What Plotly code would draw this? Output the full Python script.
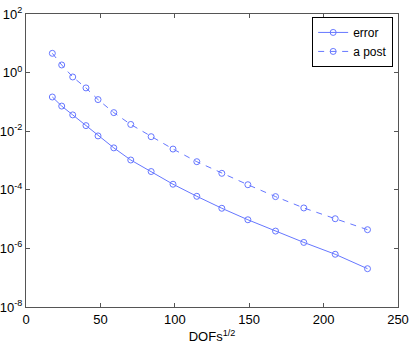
import plotly.graph_objects as go

# DOFs^(1/2) and the two estimator curves
dofs_sqrt = [17.7, 24.0, 31.4, 40.3, 48.4, 59.0, 70.4, 84.1, 98.8, 114.8,
             131.6, 149.1, 167.7, 186.7, 207.8, 229.5]
error = [0.147, 0.072, 0.036, 0.0155, 0.0069, 0.0027, 0.00104, 4.2e-4,
         1.55e-4, 6.0e-5, 2.34e-5, 9.5e-6, 3.9e-6, 1.6e-6, 6.3e-7, 2.03e-7]
a_post = [4.55, 1.82, 0.71, 0.30, 0.12, 0.043, 0.017, 0.0065,
          0.00246, 9.1e-4, 3.65e-4, 1.49e-4, 5.85e-5, 2.4e-5, 1.03e-5, 4.35e-6]

x_ticks = [0, 50, 100, 150, 200, 250]
y_exps = [2, 0, -2, -4, -6, -8]

color = '#6677ff'
font_family = 'Liberation Sans, Arial'
fig = go.Figure()
fig.add_trace(go.Scatter(
    x=dofs_sqrt, y=error, mode='lines+markers', name='error',
    line=dict(color=color, width=1),
    marker=dict(symbol='circle-open', size=6, color=color, line=dict(width=1)),
))
fig.add_trace(go.Scatter(
    x=dofs_sqrt, y=a_post, mode='lines+markers', name='a post',
    line=dict(color=color, width=1, dash='6px,6px'),
    marker=dict(symbol='circle-open', size=6, color=color, line=dict(width=1)),
))

axis_style = dict(
    showline=True, linecolor='#555555', linewidth=1, mirror='ticks',
    ticks='inside', ticklen=4, tickcolor='#555555',
    showgrid=False, zeroline=False, automargin=False,
    tickfont=dict(family=font_family, size=13, color='black'),
)
fig.update_xaxes(range=[0, 250], tickvals=x_ticks,
                 title=dict(text='DOFs<sup>1/2</sup>', standoff=8,
                            font=dict(family=font_family, size=13, color='black')),
                 **axis_style)
fig.update_yaxes(type='log', range=[-8, 2],
                 tickvals=[10 ** e for e in y_exps],
                 ticktext=['10<sup>%d</sup>' % e for e in y_exps],
                 ticklabelstandoff=0,
                 **axis_style)
fig.update_layout(
    width=411, height=344,
    margin=dict(l=26, r=13, t=14, b=37),
    paper_bgcolor='white', plot_bgcolor='white',
    font=dict(family=font_family, size=13, color='black'),
    legend=dict(x=0.987, y=0.99, xanchor='right', yanchor='top',
                bordercolor='black', borderwidth=1, bgcolor='white',
                font=dict(size=12), tracegroupgap=0, itemwidth=30),
    showlegend=True,
)
# drop the browser's default body margin so the figure sits at the page corner
fig.write_html("out.html", config={'displayModeBar': False},
               post_script="document.body.style.margin='0';")
